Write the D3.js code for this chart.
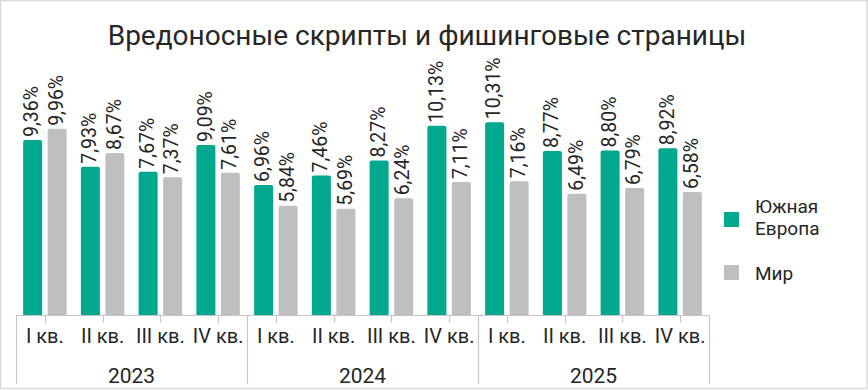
<!DOCTYPE html>
<html><head><meta charset="utf-8">
<script src="https://cdn.jsdelivr.net/npm/d3@7"></script>
<style>
html,body{margin:0;padding:0;background:#fff;}
svg{display:block;font-family:Roboto,"Open Sans",sans-serif;}
</style></head>
<body><svg id="c" width="868" height="390"></svg>
<script>
const title = "Вредоносные скрипты и фишинговые страницы";
const years = ["2023", "2024", "2025"];
const quarters = ["I кв.", "II кв.", "III кв.", "IV кв."];
const seriesNames = ["Южная Европа", "Мир"];
const southEurope = [9.36, 7.93, 7.67, 9.09, 6.96, 7.46, 8.27, 10.13, 10.31, 8.77, 8.80, 8.92];
const world = [9.96, 8.67, 7.37, 7.61, 5.84, 5.69, 6.24, 7.11, 7.16, 6.49, 6.79, 6.58];
const colors = ["#00a88e", "#bfbfbf"];

const svg = d3.select("#c");
const W = 868, H = 390;
const textColor = "#262626";
const axisColor = "#c6c6c6";

// outer border
svg.append("rect").attr("x", 0.5).attr("y", 0.5).attr("width", W - 1.5).attr("height", H - 2)
  .attr("fill", "#fff").attr("stroke", "#d9d9d9").attr("stroke-width", 1.5);

// title
svg.append("text").attr("x", 427).attr("y", 45).attr("text-anchor", "middle")
  .attr("font-size", 28).attr("fill", textColor).text(title);

const categories = [];
years.forEach(y => quarters.forEach(q => categories.push(y + "|" + q)));
const rows = categories.map((c, i) => ({ key: c, values: [southEurope[i], world[i]] }));

const left = 16, right = 709, baseY = 315;
const x0 = d3.scaleBand().domain(categories).range([left, right]).padding(0);
const x1 = d3.scaleBand().domain([0, 1]).range([0, x0.bandwidth()]).paddingInner(0.2245).paddingOuter(0.291);
const y = d3.scaleLinear().domain([0, 12]).range([baseY, baseY - 12 * 18.69]);

const labelText = v => d3.format(".2f")(v).replace(".", ",") + "%";

const g = svg.append("g");
const groups = g.selectAll("g.cat").data(rows).join("g").attr("class", "cat")
  .attr("transform", d => `translate(${x0(d.key)},0)`);

groups.selectAll("path.bar").data(d => d.values.map((v, i) => ({ v, i }))).join("path")
  .attr("class", "bar")
  .attr("fill", d => colors[d.i])
  .attr("d", d => {
    const bx = x1(d.i), bw = x1.bandwidth(), top = y(d.v), r = 2;
    return `M${bx},${baseY}V${top + r}Q${bx},${top} ${bx + r},${top}H${bx + bw - r}Q${bx + bw},${top} ${bx + bw},${top + r}V${baseY}Z`;
  });

groups.selectAll("text.lbl").data(d => d.values.map((v, i) => ({ v, i }))).join("text")
  .attr("class", "lbl")
  .attr("transform", d => `translate(${x1(d.i) + x1.bandwidth() / 2},${y(d.v) - 3}) rotate(-90)`)
  .attr("dy", "0.3em")
  .attr("font-size", 19.5).attr("fill", textColor)
  .text(d => labelText(d.v));

// axis
const ax = svg.append("g").attr("stroke", axisColor).attr("stroke-width", 1.2);
ax.append("line").attr("x1", left).attr("x2", right).attr("y1", baseY + 0.5).attr("y2", baseY + 0.5);
categories.forEach(c => {
  const cx = Math.round(x0(c) + x0.bandwidth() / 2) + 0.5;
  ax.append("line").attr("x1", cx).attr("x2", cx).attr("y1", baseY).attr("y2", baseY + 8);
});
const yearScale = d3.scaleBand().domain(years).range([left, right]);
[left, ...years.map(yr => yearScale(yr) + yearScale.bandwidth())].forEach(xx => {
  const px = Math.round(xx) + 0.5;
  ax.append("line").attr("x1", px).attr("x2", px).attr("y1", baseY).attr("y2", 384);
});

// quarter labels
svg.append("g").selectAll("text").data(categories).join("text")
  .attr("x", d => x0(d) + x0.bandwidth() / 2).attr("y", 343)
  .attr("text-anchor", "middle").attr("font-size", 20).attr("fill", textColor)
  .text(d => d.split("|")[1]);

// year labels
svg.append("g").selectAll("text").data(years).join("text")
  .attr("x", d => yearScale(d) + yearScale.bandwidth() / 2).attr("y", 383)
  .attr("text-anchor", "middle").attr("font-size", 21).attr("fill", textColor)
  .text(d => d);

// legend
const lg = svg.append("g");
lg.append("rect").attr("x", 724).attr("y", 212).attr("width", 15).attr("height", 15).attr("fill", colors[0]);
const t1 = lg.append("text").attr("x", 755).attr("font-size", 19).attr("fill", textColor);
const parts = seriesNames[0].split(" ");
t1.append("tspan").attr("x", 755).attr("y", 213).text(parts[0]);
t1.append("tspan").attr("x", 755).attr("y", 235).text(parts[1]);
lg.append("rect").attr("x", 724).attr("y", 265).attr("width", 15).attr("height", 15).attr("fill", colors[1]);
lg.append("text").attr("x", 755).attr("y", 280).attr("font-size", 19).attr("fill", textColor).text(seriesNames[1]);
</script></body></html>
